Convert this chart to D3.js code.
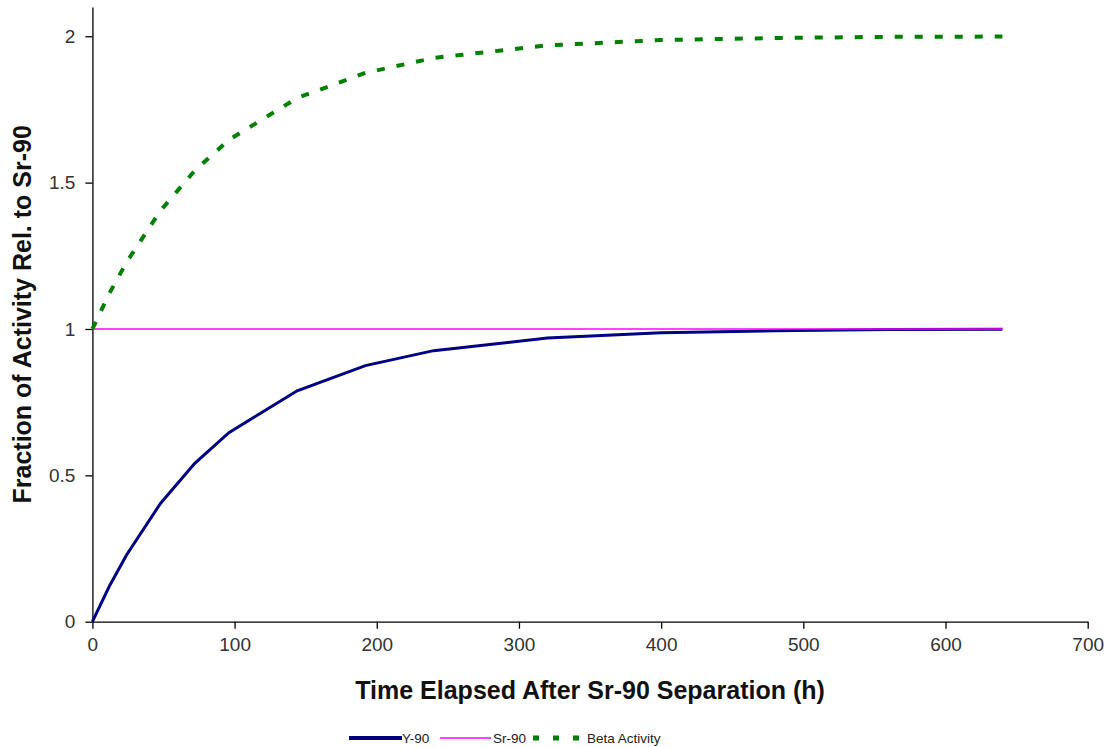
<!DOCTYPE html>
<html>
<head>
<meta charset="utf-8">
<script src="https://cdn.jsdelivr.net/npm/d3@7"></script>
<style>
  body { margin: 0; background: #fff; }
  .tick text { font-family: "Liberation Sans", Arial, sans-serif; font-size: 19px; fill: #333; }
  .axisText { font-family: "Liberation Sans", Arial, sans-serif; font-weight: bold; font-size: 25px; fill: #111; }
  .legText { font-family: "Liberation Sans", Arial, sans-serif; font-size: 13.5px; fill: #222; }
</style>
</head>
<body>
<div class="chart"></div>
<script>
// data
var hours = [0, 12, 24, 48, 72, 96, 144, 192, 240, 320, 400, 480, 560, 640];
var y90 = [0, 0.122, 0.228, 0.405, 0.541, 0.646, 0.789, 0.875, 0.926, 0.969, 0.987, 0.994, 0.998, 0.999];
var sr90 = [1, 1, 1, 1, 1, 1, 1, 1, 1, 1, 1, 1, 1, 1];
var beta = [1, 1.122, 1.228, 1.405, 1.541, 1.646, 1.789, 1.875, 1.926, 1.969, 1.987, 1.994, 1.998, 1.999];
var xTicks = [0, 100, 200, 300, 400, 500, 600, 700];
var yTicks = [0, 0.5, 1, 1.5, 2];

var svgWidth = 1118;
var svgHeight = 747;

var svg = d3.select(".chart")
  .append("svg")
  .attr("width", svgWidth)
  .attr("height", svgHeight);

var x = d3.scaleLinear().domain([0, 700]).range([92.4, 1087.7]);
var y = d3.scaleLinear().domain([0, 2.1]).range([621.7, 7]);

// axes
svg.append("g")
  .attr("transform", `translate(0, ${y(0)})`)
  .call(d3.axisBottom(x).tickValues(xTicks).tickSize(7).tickPadding(9).tickSizeOuter(0))
  .call(g => g.selectAll("line, path").attr("stroke", "#000").attr("stroke-width", 1.3));

svg.append("g")
  .attr("transform", `translate(${x(0)}, 0)`)
  .call(d3.axisLeft(y).tickValues(yTicks).tickFormat(d3.format("")).tickSize(7).tickPadding(10).tickSizeOuter(0))
  .call(g => g.selectAll("line, path").attr("stroke", "#000").attr("stroke-width", 1.3));

// lines
function lineOf(vals) {
  return d3.line()
    .x((d, i) => x(hours[i]))
    .y(d => y(d))(vals);
}

svg.append("path")
  .attr("d", lineOf(y90))
  .attr("fill", "none")
  .attr("stroke", "#000080")
  .attr("stroke-width", 3);

svg.append("path")
  .attr("d", lineOf(sr90))
  .attr("fill", "none")
  .attr("stroke", "#ff00ff")
  .attr("stroke-width", 1.5);

svg.append("path")
  .attr("d", lineOf(beta))
  .attr("fill", "none")
  .attr("stroke", "#008000")
  .attr("stroke-width", 4)
  .attr("stroke-dasharray", "8,12");

// axis titles
svg.append("text")
  .attr("class", "axisText")
  .attr("text-anchor", "middle")
  .attr("x", (x(0) + x(700)) / 2)
  .attr("y", 699)
  .text("Time Elapsed After Sr-90 Separation (h)");

svg.append("text")
  .attr("class", "axisText")
  .attr("text-anchor", "middle")
  .attr("transform", `translate(31, ${(y(0) + y(2.1)) / 2}) rotate(-90)`)
  .text("Fraction of Activity Rel. to Sr-90");

// legend
var leg = svg.append("g");
var ly = 738;
leg.append("line").attr("x1", 349).attr("x2", 402).attr("y1", ly).attr("y2", ly)
  .attr("stroke", "#000080").attr("stroke-width", 4);
leg.append("text").attr("class", "legText").attr("x", 402).attr("y", ly + 5).text("Y-90");
leg.append("line").attr("x1", 440).attr("x2", 491).attr("y1", ly).attr("y2", ly)
  .attr("stroke", "#ff00ff").attr("stroke-width", 1.5);
leg.append("text").attr("class", "legText").attr("x", 493).attr("y", ly + 5).text("Sr-90");
leg.append("line").attr("x1", 533).attr("x2", 583).attr("y1", ly).attr("y2", ly)
  .attr("stroke", "#008000").attr("stroke-width", 5).attr("stroke-dasharray", "6,14");
leg.append("text").attr("class", "legText").attr("x", 587).attr("y", ly + 5).text("Beta Activity");
</script>
</body>
</html>
